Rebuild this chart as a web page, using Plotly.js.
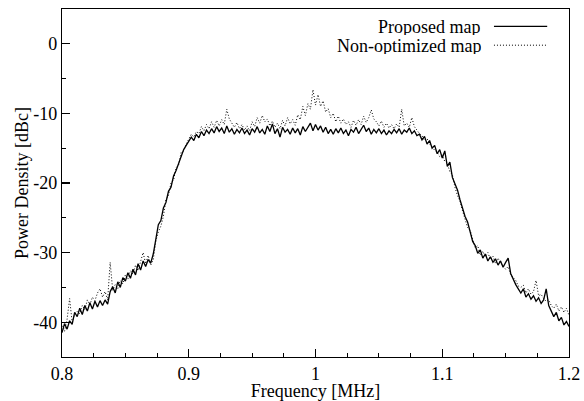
<!DOCTYPE html>
<html>
<head>
<meta charset="utf-8">
<script src="https://cdn.plot.ly/plotly-3.0.1.min.js"></script>
<style>html,body{margin:0;padding:0;background:#fff;}#chart{width:584px;height:401px;}</style>
</head>
<body>
<div id="chart"></div>
<script>
// Frequency grid [MHz]
const freqStart = 0.8;
const freqStep = 0.002;

// Power density [dBc], proposed map (solid)
const proposedMap = [
-41.5,-40.2,-41.0,-39.8,-40.3,-38.6,-39.2,-38.0,-38.9,-37.6,
-38.4,-37.2,-38.1,-37.0,-37.8,-36.9,-37.6,-36.8,-37.4,-35.6,
-34.9,-35.8,-34.2,-35.0,-33.6,-34.1,-32.9,-33.7,-32.4,-33.2,
-31.6,-32.5,-31.2,-32.0,-31.0,-31.5,-30.2,-27.8,-26.0,-25.4,
-23.6,-22.8,-21.2,-20.6,-19.0,-18.2,-17.1,-16.0,-15.2,-14.6,
-14.0,-13.4,-13.9,-13.0,-13.5,-12.6,-13.2,-12.4,-12.9,-12.2,
-12.8,-11.9,-12.6,-12.1,-12.9,-11.8,-12.7,-12.2,-13.0,-12.3,
-12.8,-12.1,-12.9,-12.4,-13.1,-12.2,-12.7,-11.9,-12.8,-12.3,
-13.0,-11.8,-12.6,-11.5,-12.9,-12.2,-13.4,-12.0,-12.7,-12.3,
-13.0,-12.1,-12.8,-12.2,-13.1,-11.9,-12.6,-12.0,-11.4,-12.5,
-11.6,-12.4,-11.8,-12.7,-12.0,-12.9,-12.3,-13.0,-12.2,-12.8,
-12.1,-12.9,-12.4,-13.2,-12.3,-12.7,-12.0,-12.9,-12.2,-11.7,
-12.6,-12.1,-13.0,-12.3,-12.8,-12.2,-12.9,-12.4,-13.1,-12.5,
-12.9,-12.3,-12.8,-12.2,-13.0,-12.4,-12.7,-12.1,-12.9,-12.5,
-13.2,-13.0,-13.8,-13.3,-14.4,-13.9,-15.0,-14.6,-15.8,-15.2,
-16.4,-15.4,-17.6,-17.0,-19.2,-20.0,-21.0,-22.4,-23.6,-24.8,
-25.6,-27.2,-28.4,-29.0,-30.1,-29.6,-30.8,-30.2,-31.2,-30.6,
-31.4,-30.9,-31.8,-31.2,-32.1,-31.4,-30.8,-33.0,-33.9,-34.6,
-35.2,-35.8,-35.2,-36.4,-35.9,-36.7,-36.2,-37.0,-36.5,-37.3,
-36.8,-35.2,-37.6,-38.4,-39.2,-38.6,-39.8,-39.3,-40.4,-39.9,
-40.6
];

// Power density [dBc], non-optimized map (dotted)
const nonOptimizedMap = [
-40.5,-41.3,-39.6,-36.6,-40.0,-38.9,-38.4,-38.8,-37.6,-38.2,
-36.8,-37.5,-36.4,-36.9,-35.8,-35.2,-36.4,-35.6,-36.8,-31.4,
-35.4,-34.6,-35.2,-34.0,-34.5,-33.2,-33.8,-32.6,-33.1,-31.8,
-32.6,-31.3,-30.0,-31.6,-30.4,-31.8,-31.0,-28.4,-27.0,-26.2,
-24.8,-22.4,-21.8,-20.0,-19.6,-17.8,-17.4,-15.6,-15.4,-14.4,
-13.8,-13.0,-13.4,-12.6,-12.9,-11.9,-12.5,-11.6,-12.2,-11.2,
-12.0,-11.0,-11.8,-10.9,-11.6,-9.4,-10.8,-11.4,-12.0,-11.3,
-12.2,-11.6,-12.4,-11.8,-12.5,-11.2,-11.9,-10.6,-11.4,-10.3,
-11.2,-10.8,-11.8,-11.1,-12.0,-11.4,-12.2,-11.0,-11.8,-10.6,
-11.5,-10.9,-11.7,-10.2,-10.9,-9.0,-10.3,-8.6,-9.4,-6.6,
-8.8,-7.3,-9.0,-8.2,-9.8,-9.3,-10.6,-10.0,-11.2,-10.4,
-11.4,-10.8,-11.6,-11.2,-12.0,-11.0,-11.7,-10.9,-11.6,-10.4,
-11.3,-10.6,-9.5,-10.8,-11.2,-11.8,-11.1,-12.0,-11.4,-12.1,
-11.6,-12.2,-11.5,-12.0,-9.4,-11.8,-11.4,-12.0,-10.6,-11.9,
-12.4,-12.9,-13.2,-13.9,-13.6,-14.4,-14.8,-15.3,-15.6,-16.2,
-16.0,-16.9,-17.2,-18.4,-18.8,-20.6,-21.8,-22.6,-24.0,-25.2,
-26.4,-26.8,-28.0,-29.3,-29.0,-30.4,-29.8,-30.6,-30.0,-31.0,
-30.5,-31.6,-30.8,-31.5,-31.9,-32.4,-32.0,-33.2,-33.6,-34.0,
-34.8,-35.0,-34.7,-35.8,-35.2,-36.0,-35.6,-34.0,-36.2,-36.0,
-36.6,-37.0,-36.8,-37.6,-38.0,-37.4,-38.4,-37.8,-38.6,-38.0,
-39.0
];

const seriesNames = ['Proposed map', 'Non-optimized map'];
const xTickVals = [0.8, 0.9, 1.0, 1.1, 1.2];
const xTickText = ['0.8', '0.9', '1', '1.1', '1.2'];
const yTickVals = [0, -10, -20, -30, -40];
const yTickText = ['0', '-10', '-20', '-30', '-40'];

const freq = proposedMap.map((_, i) => +(freqStart + i * freqStep).toFixed(4));

const FONT = 'Liberation Serif';
const DOTS = '1px,2px';

const traces = [
  {x: freq, y: proposedMap, type: 'scatter', mode: 'lines', name: seriesNames[0],
   line: {color: '#000', width: 1.3, dash: 'solid'}, showlegend: false},
  {x: freq, y: nonOptimizedMap, type: 'scatter', mode: 'lines', name: seriesNames[1],
   line: {color: '#000', width: 1, dash: DOTS}, showlegend: false}
];

const axisCommon = {
  showgrid: false, zeroline: false, showline: true, mirror: true,
  linecolor: '#000', linewidth: 1.2, ticks: 'inside', ticklen: 8, tickwidth: 1.2,
  tickcolor: '#000', tickfont: {family: FONT, size: 18, color: '#000'}
};

const layout = {
  width: 584, height: 401,
  margin: {l: 62, r: 15, t: 9, b: 44},
  paper_bgcolor: '#fff', plot_bgcolor: '#fff',
  font: {family: FONT, size: 18, color: '#000'},
  showlegend: false,
  xaxis: Object.assign({}, axisCommon, {
    range: [0.8, 1.2], tickmode: 'array', tickvals: xTickVals, ticktext: xTickText,
    minor: {dtick: 0.025, tick0: 0.8, ticks: 'inside', ticklen: 4, tickcolor: '#000', tickwidth: 1},
    title: {text: 'Frequency [MHz]', font: {family: FONT, size: 18, color: '#000'}, standoff: 0}
  }),
  yaxis: Object.assign({}, axisCommon, {
    range: [-45, 5], tickmode: 'array', tickvals: yTickVals, ticktext: yTickText,
    minor: {dtick: 5, tick0: 0, ticks: 'inside', ticklen: 4, tickcolor: '#000', tickwidth: 1},
    title: {text: 'Power Density [dBc]', font: {family: FONT, size: 18, color: '#000'}, standoff: 0}
  }),
  annotations: [
    {xref: 'paper', yref: 'paper', x: 0.828, y: 0.950, xanchor: 'right', yanchor: 'middle',
     height: 17, valign: 'middle', borderpad: 0,
     text: seriesNames[0], showarrow: false, font: {family: FONT, size: 18, color: '#000'}},
    {xref: 'paper', yref: 'paper', x: 0.828, y: 0.896, xanchor: 'right', yanchor: 'middle',
     height: 17, valign: 'middle', borderpad: 0,
     text: seriesNames[1], showarrow: false, font: {family: FONT, size: 18, color: '#000'}}
  ],
  shapes: [
    {type: 'line', xref: 'paper', yref: 'paper', x0: 0.852, x1: 0.957, y0: 0.950, y1: 0.950,
     line: {color: '#000', width: 1.3, dash: 'solid'}},
    {type: 'line', xref: 'paper', yref: 'paper', x0: 0.852, x1: 0.957, y0: 0.896, y1: 0.896,
     line: {color: '#000', width: 1, dash: DOTS}}
  ]
};

Plotly.newPlot('chart', traces, layout, {displayModeBar: false, staticPlot: true});
</script>
</body>
</html>
